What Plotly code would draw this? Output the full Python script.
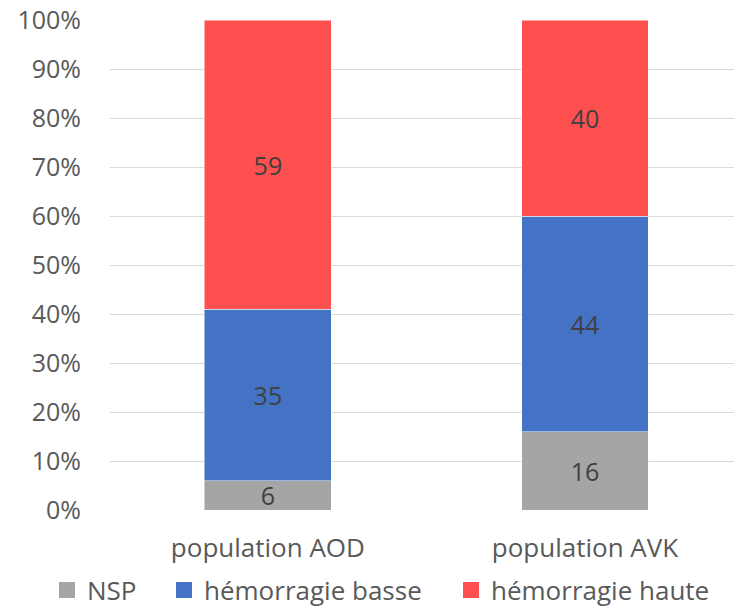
import plotly.graph_objects as go

# Categories and counts per bleeding type (each population sums to 100)
categories = ["population AOD", "population AVK"]
nsp = [6, 16]
hemorragie_basse = [35, 44]
hemorragie_haute = [59, 40]

series = [
    ("NSP", nsp, "#A5A5A5"),
    ("hémorragie basse", hemorragie_basse, "#4472C4"),
    ("hémorragie haute", hemorragie_haute, "#FF5050"),
]

totals = [sum(v) for v in zip(nsp, hemorragie_basse, hemorragie_haute)]

FONT = "Open Sans"
GREY = "#595959"
SIZE = 25

# plot area geometry (px)
PLOT_L, PLOT_W, PLOT_B, PLOT_H = 110, 624, 510, 490
LEGEND_PX = [47, 164, 451]  # left edge of each legend entry
LEGEND_Y_PX = 590            # vertical centre of the legend row

fig = go.Figure()
for i, (name, vals, color) in enumerate(series):
    pct = [100.0 * v / t for v, t in zip(vals, totals)]
    fig.add_trace(go.Bar(
        name=name,
        x=[0, 1],
        y=pct,
        text=[str(v) for v in vals],
        textposition="inside",
        insidetextanchor="middle",
        constraintext="none",
        textangle=0,
        textfont=dict(family=FONT, size=SIZE, color="#404040"),
        marker=dict(color=color, line=dict(color="rgba(255,255,255,0.6)", width=0.8)),
        width=0.4,
        hoverinfo="skip",
        showlegend=False,
    ))

# legend entries with larger square keys, one legend per entry
for i, (name, vals, color) in enumerate(series):
    lg = "legend" if i == 0 else f"legend{i + 1}"
    fig.add_trace(go.Scatter(
        name=name,
        x=[None],
        y=[None],
        mode="markers",
        marker=dict(symbol="square", size=16, color=color),
        legend=lg,
        hoverinfo="skip",
    ))

legend_common = dict(
    orientation="h",
    xanchor="left",
    y=-(LEGEND_Y_PX - PLOT_B) / PLOT_H,
    yanchor="middle",
    font=dict(family=FONT, size=26, color=GREY),
    itemwidth=30,
    bgcolor="rgba(0,0,0,0)",
)

fig.update_layout(
    barmode="stack",
    width=734,
    height=608,
    margin=dict(l=PLOT_L, r=0, t=20, b=98, autoexpand=False),
    paper_bgcolor="white",
    plot_bgcolor="white",
    font=dict(family=FONT, size=SIZE, color=GREY),
    xaxis=dict(
        range=[-0.498, 1.47],
        tickmode="array",
        tickvals=[0, 1],
        ticktext=categories,
        showgrid=False,
        zeroline=False,
        showline=False,
        ticks="",
        automargin=False,
        ticklabelstandoff=20,
        tickfont=dict(family=FONT, size=26, color=GREY),
    ),
    yaxis=dict(
        range=[0, 100],
        tickmode="array",
        tickvals=list(range(0, 101, 10)),
        ticktext=[f"{v}%" for v in range(0, 101, 10)],
        showgrid=True,
        gridcolor="#D9D9D9",
        gridwidth=1,
        zeroline=False,
        ticks="",
        automargin=False,
        ticklabelstandoff=28,
        tickfont=dict(family=FONT, size=SIZE, color=GREY),
    ),
    legend=dict(x=(LEGEND_PX[0] - PLOT_L) / PLOT_W, **legend_common),
    legend2=dict(x=(LEGEND_PX[1] - PLOT_L) / PLOT_W, **legend_common),
    legend3=dict(x=(LEGEND_PX[2] - PLOT_L) / PLOT_W, **legend_common),
    showlegend=True,
)

fig.write_html("out.html")
